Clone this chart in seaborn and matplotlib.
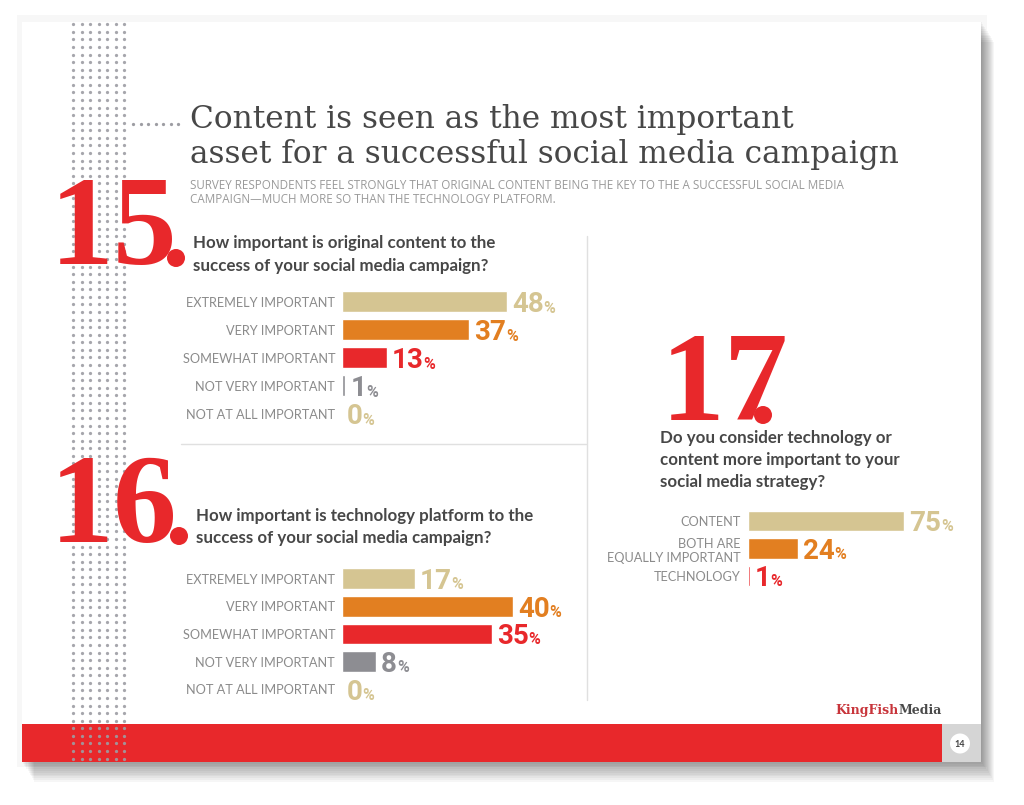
import matplotlib
matplotlib.use('Agg')
import matplotlib.pyplot as plt
import seaborn as sns
import numpy as np
from matplotlib.patches import Rectangle, Circle

W, H = 1024, 805

TAN = '#d5c592'
ORANGE = '#e27f21'
RED = '#e8282b'
GRAY = '#8d8d92'

# data
q15_labels = ['EXTREMELY IMPORTANT', 'VERY IMPORTANT', 'SOMEWHAT IMPORTANT',
              'NOT VERY IMPORTANT', 'NOT AT ALL IMPORTANT']
q15_values = [48, 37, 13, 1, 0]
q16_labels = ['EXTREMELY IMPORTANT', 'VERY IMPORTANT', 'SOMEWHAT IMPORTANT',
              'NOT VERY IMPORTANT', 'NOT AT ALL IMPORTANT']
q16_values = [17, 40, 35, 8, 0]
q17_labels = ['CONTENT', 'BOTH ARE\nEQUALLY IMPORTANT', 'TECHNOLOGY']
q17_values = [75, 24, 1]
scale_colors = [TAN, ORANGE, RED, GRAY, TAN]
q17_colors = [TAN, ORANGE, RED]

sns.set_theme(style='white')
plt.rcParams['font.family'] = ['Lato', 'DejaVu Sans']

fig = plt.figure(figsize=(W / 100, H / 100), dpi=100)
fig.patch.set_facecolor('white')

# background axes in pixel coordinates
bg = fig.add_axes([0, 0, 1, 1])
bg.set_xlim(0, W)
bg.set_ylim(H, 0)
bg.axis('off')

# page shadow + page
bg.add_patch(Rectangle((17, 15), 970, 752, color='black', alpha=0.03, lw=0))
for k in range(12):
    bg.add_patch(Rectangle((22 + k * 1.1, 22 + k * 1.8), 960, 740,
                           color='black', alpha=0.035, lw=0))
bg.add_patch(Rectangle((22, 22), 959, 740, color='white', lw=0, zorder=1))

# footer band
bg.add_patch(Rectangle((22, 724.3), 919.7, 37.4, color=RED, lw=0, zorder=2))
bg.add_patch(Rectangle((941.7, 724.3), 39.3, 37.4, color='#d5d5d5', lw=0, zorder=2))
bg.add_patch(Circle((960, 743.5), 10, color='white', lw=0, zorder=3))
bg.text(960, 744, '14', ha='center', va='center', fontsize=6.5,
        fontweight='bold', color='#444444', zorder=4)

# dot column
dot_x = 73.3 + 8.5 * np.arange(7)
dot_y = np.arange(24.3, 760, 7.57)
xx, yy = np.meshgrid(dot_x, dot_y)
bg.scatter(xx.ravel(), yy.ravel(), s=5.5, color='#9d9da3', alpha=0.9, lw=0, zorder=3)
lead_x = np.arange(133, 183, 7.5)
bg.scatter(lead_x, np.full(len(lead_x), 124), s=5.5, color='#9d9da3', lw=0, zorder=3)

# title + subtitle
serif = ['DejaVu Serif']
bg.text(190, 128, 'Content is seen as the most important', fontsize=22.5,
        family=serif, color='#474747', va='baseline', zorder=4)
bg.text(190, 163, 'asset for a successful social media campaign', fontsize=22.5,
        family=serif, color='#474747', va='baseline', zorder=4)
bg.text(190, 189, 'SURVEY RESPONDENTS FEEL STRONGLY THAT ORIGINAL CONTENT BEING THE KEY '
        'TO THE A SUCCESSFUL SOCIAL MEDIA', fontsize=8.4, family=['Open Sans'],
        color='#9a9a9a', va='baseline', zorder=4)
bg.text(190, 203, 'CAMPAIGN\u2014MUCH MORE SO THAN THE TECHNOLOGY PLATFORM.', fontsize=8.4,
        family=['Open Sans'], color='#9a9a9a', va='baseline', zorder=4)

# separators
bg.plot([181, 586], [444, 444], color='#e0e0e0', lw=1, zorder=2)
bg.plot([587, 587], [236, 700], color='#e0e0e0', lw=1, zorder=2)

# big numbers
for txt, (x, y), (cx, cy) in [('15', (50, 264), (176, 258)),
                              ('16', (50, 542), (179, 536)),
                              ('17', (661, 420), (763, 415))]:
    bg.text(x, y, txt, fontsize=92, family=['Liberation Serif'], fontweight='bold',
            color=RED, va='baseline', ha='left', zorder=5)
    bg.add_patch(Circle((cx, cy), 9, color=RED, lw=0, zorder=5))

# questions
qkw = dict(fontsize=12.2, fontweight='bold', color='#474747', va='baseline', zorder=4)
bg.text(193, 248, 'How important is original content to the', **qkw)
bg.text(193, 271, 'success of your social media campaign?', **qkw)
bg.text(196, 521, 'How important is technology platform to the', **qkw)
bg.text(196, 543, 'success of your social media campaign?', **qkw)
bg.text(660, 443, 'Do you consider technology or', **qkw)
bg.text(660, 465, 'content more important to your', **qkw)
bg.text(660, 487, 'social media strategy?', **qkw)

# logo
media = bg.text(942, 714, 'Media', ha='right', va='baseline', fontsize=9,
                fontweight='bold', family=serif, color='#4a4a4a', zorder=4)
bg.annotate('KingFish', xy=(0, 0), xycoords=media, ha='right', va='bottom',
            fontsize=9, fontweight='bold', family=serif, color='#c8353b', zorder=4)


def bar_panel(rect, labels, values, colors, xmax):
    left, top, width, height = rect
    ax = fig.add_axes([left / W, 1 - (top + height) / H, width / W, height / H])
    ax.set_facecolor('none')
    sns.barplot(x=values, y=labels, hue=labels, palette=colors, legend=False,
                orient='h', width=0.75, saturation=1, ax=ax)
    ax.set_xlim(0, xmax)
    ax.set_ylim(len(labels) - 0.5, -0.5)
    sns.despine(ax=ax, left=True, bottom=True)
    ax.set_xticks([])
    ax.set_xlabel('')
    ax.set_ylabel('')
    ax.tick_params(axis='y', length=0, pad=5, labelsize=9.2, labelcolor='#8b8b8b')
    for i, (v, c) in enumerate(zip(values, colors)):
        num = ax.annotate(str(v), xy=(v, i + 0.375), xytext=(3.6, 0),
                          textcoords='offset points', ha='left', va='baseline',
                          fontsize=20, fontweight='bold', color=c, family=['Roboto'])
        ax.annotate('%', xy=(1, 0), xycoords=num, xytext=(-0.3, 2.1),
                    textcoords='offset points', ha='left', va='bottom',
                    fontsize=11.5, fontweight='bold', color=c, family=['Roboto'])
    return ax


bar_panel((342, 288, 241, 140), q15_labels, q15_values, scale_colors, 70)
bar_panel((342, 565, 240, 138), q16_labels, q16_values, scale_colors, 56.1)
bar_panel((747.5, 507.25, 230, 82.5), q17_labels, q17_values, q17_colors, 110)

fig.savefig('out.png', dpi=100)
